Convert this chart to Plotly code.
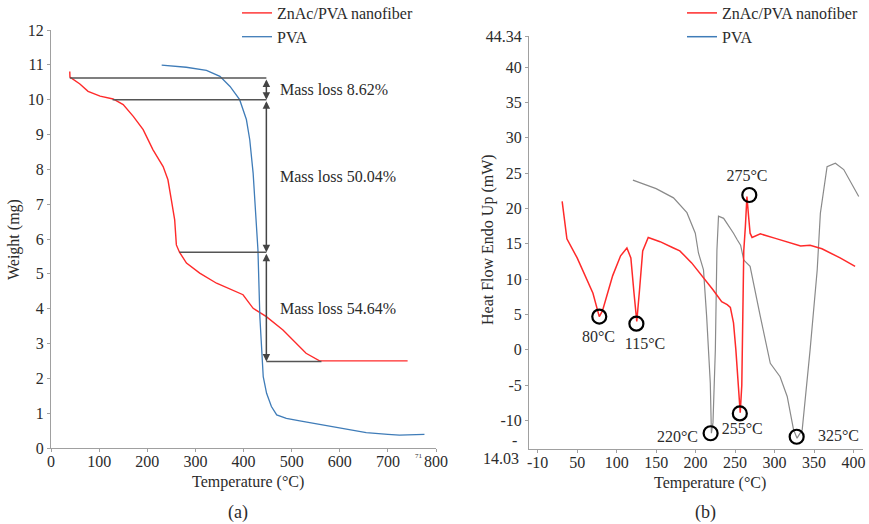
import plotly.graph_objects as go

# ---------------- (a) TGA data ----------------
tga_zn_T = [39, 39.4, 60, 77, 102, 129, 150, 171, 191.5, 212, 233, 243, 250, 257, 260.5, 267,
            281.5, 309, 344, 378, 399, 420, 447.5, 482, 503, 530, 558, 600, 650, 700, 741]
tga_zn_W = [10.81, 10.65, 10.45, 10.24, 10.10, 10.02, 9.86, 9.52, 9.14, 8.56, 8.08, 7.70, 7.13, 6.55, 5.83, 5.62,
            5.31, 5.02, 4.73, 4.54, 4.40, 4.01, 3.77, 3.39, 3.10, 2.72, 2.50, 2.50, 2.49, 2.50, 2.50]
tga_pva_T = [230, 281, 323, 351, 372, 392, 406, 413, 420, 425, 430, 434, 441, 448, 458, 469,
             489, 517, 586, 655, 700, 724, 776]
tga_pva_W = [10.99, 10.93, 10.84, 10.67, 10.38, 10.00, 9.43, 8.85, 7.89, 6.93, 5.69, 3.77, 2.05, 1.57, 1.19, 0.95,
             0.85, 0.78, 0.61, 0.44, 0.39, 0.37, 0.39]

level_y = [10.62, 10.00, 5.62, 2.48]
level_x0 = [39, 128, 267, 447.5]
level_x1 = [447.5, 447.5, 447.5, 562]
arrow_x = 447.5
loss_text = ["Mass loss 8.62%", "Mass loss 50.04%", "Mass loss 54.64%"]
loss_y = [10.3, 7.8, 4.0]
loss_x = 471

# ---------------- (b) DSC data ----------------
dsc_zn_T = [31, 37, 50, 62, 70, 78, 82, 95, 105, 113, 118, 122, 125.5, 129, 133, 140, 155, 172, 180,
            195, 210, 222, 233, 240, 244, 248, 251, 254, 256.5, 258.5, 261, 263, 265, 267, 269, 271.5,
            282, 300, 320, 333, 345, 360, 383, 402]
dsc_zn_H = [21.0, 15.7, 13.0, 10.0, 8.0, 4.7, 5.5, 10.5, 13.3, 14.4, 13.0, 8.0, 4.0, 8.5, 14.0, 15.9, 15.3, 14.4, 14.0,
            12.3, 10.2, 8.5, 6.8, 6.4, 6.0, 3.8, 0.0, -5.7, -8.9, -5.0, 14.0, 17.4, 21.7, 19.0, 16.5, 15.9,
            16.4, 15.8, 15.1, 14.7, 14.8, 14.3, 13.0, 11.8]
dsc_pva_T = [120.6, 150, 172, 189, 199.6, 203.6, 210, 214, 218.6, 220, 222, 225, 227, 229, 235.5, 242, 248,
             252.5, 257, 261, 269, 282, 294.6, 307, 316, 324, 328.5, 335, 345, 354, 358, 366.5, 377,
             387.6, 406.6]
dsc_pva_H = [24.0, 22.8, 21.5, 19.4, 16.5, 13.7, 11.3, 4.7, -4.7, -11.8, -10.3, 0.0, 14.1, 18.9, 18.6, 17.6, 16.5,
             15.6, 14.8, 12.7, 11.8, 4.7, -1.9, -3.8, -6.6, -11.3, -12.5, -11.3, 0.0, 11.3, 19.3, 25.9, 26.4,
             25.5, 21.7]
peak_T = [78, 125, 219, 256, 268, 328]
peak_H = [4.7, 3.7, -11.8, -9.0, 21.9, -12.3]
peak_lbl = ["80°C", "115°C", "220°C", "255°C", "275°C", "325°C"]
lbl_T = [77, 136, 177, 259, 265, 381]
lbl_H = [1.7, 0.7, -12.5, -11.3, 24.5, -12.3]

dsc_xticks = [0, 50, 100, 150, 200, 250, 300, 350, 400]
dsc_xtext = ["-10", "50", "100", "150", "200", "250", "300", "350", "400"]
dsc_yticks = [-10, -5, 0, 5, 10, 15, 20, 25, 30, 35, 40, 44.34]
dsc_ytext = ["-10", "-5", "0", "5", "10", "15", "20", "25", "30", "35", "40", "44.34"]

RED = "#ff2a2a"
BLUE = "#3f7cb8"
GRAY = "#8a8a8a"
FONT = "Liberation Serif, Times New Roman, Times, serif"
TXT = "#2b2b2b"
FS = 16

fig = go.Figure()

fig.add_trace(go.Scatter(x=tga_zn_T, y=tga_zn_W, mode="lines", line=dict(color=RED, width=1.4),
                         name="ZnAc/PVA nanofiber", xaxis="x", yaxis="y", legend="legend"))
fig.add_trace(go.Scatter(x=tga_pva_T, y=tga_pva_W, mode="lines", line=dict(color=BLUE, width=1.3),
                         name="PVA", xaxis="x", yaxis="y", legend="legend"))

fig.add_trace(go.Scatter(x=dsc_pva_T, y=dsc_pva_H, mode="lines", line=dict(color=GRAY, width=1.2),
                         showlegend=False, xaxis="x2", yaxis="y2"))
fig.add_trace(go.Scatter(x=dsc_zn_T, y=dsc_zn_H, mode="lines", line=dict(color=RED, width=1.5),
                         showlegend=False, xaxis="x2", yaxis="y2"))
fig.add_trace(go.Scatter(x=[None], y=[None], mode="lines", line=dict(color=RED, width=1.5),
                         name="ZnAc/PVA nanofiber", xaxis="x2", yaxis="y2", legend="legend2"))
fig.add_trace(go.Scatter(x=[None], y=[None], mode="lines", line=dict(color=BLUE, width=1.5),
                         name="PVA", xaxis="x2", yaxis="y2", legend="legend2"))
fig.add_trace(go.Scatter(x=peak_T, y=peak_H, mode="markers",
                         marker=dict(symbol="circle-open", size=14, color="black", line=dict(width=2.2)),
                         showlegend=False, xaxis="x2", yaxis="y2"))
fig.add_trace(go.Scatter(x=lbl_T, y=lbl_H, mode="text", text=peak_lbl,
                         textfont=dict(family=FONT, size=FS, color=TXT),
                         showlegend=False, xaxis="x2", yaxis="y2"))

# level lines
for yv, x0, x1 in zip(level_y, level_x0, level_x1):
    fig.add_shape(type="line", x0=x0, x1=x1, y0=yv, y1=yv, xref="x", yref="y",
                  line=dict(color="#555555", width=1.5))

annotations = []
for i in range(3):
    annotations.append(dict(x=arrow_x, y=level_y[i + 1], ax=arrow_x, ay=level_y[i], xref="x", yref="y",
                            axref="x", ayref="y", showarrow=True, arrowhead=2, arrowside="end+start",
                            arrowsize=1, arrowwidth=1.5, arrowcolor="#444444", text=""))
    annotations.append(dict(x=loss_x, y=loss_y[i], xref="x", yref="y", text=loss_text[i], showarrow=False,
                            xanchor="left", yanchor="middle", font=dict(family=FONT, size=FS, color=TXT)))

# axis titles & captions (pixel positions converted to paper coords)
W, H = 869, 524
def px(x):
    return x / W
def py(y):
    return 1 - y / H

def txt(x, y, s, size=FS, xa="center", angle=0):
    return dict(x=px(x), y=py(y), xref="paper", yref="paper", text=s, showarrow=False,
                xanchor=xa, yanchor="middle", textangle=angle,
                font=dict(family=FONT, size=size, color=TXT))

annotations += [
    txt(14, 240, "Weight (mg)", angle=-90),
    txt(488, 240, "Heat Flow Endo Up (mW)", angle=-90),
    txt(248, 482, "Temperature (°C)"),
    txt(710, 483, "Temperature (°C)"),
    txt(238, 512, "(a)", size=18),
    txt(705, 512, "(b)", size=18),
    txt(519, 440, "-", xa="right"),
    txt(521, 458, "14.03", xa="right"),
    txt(425, 456, "71", size=7, xa="right"),
]

axis_common = dict(showgrid=False, zeroline=False, showline=True, linecolor="#a0a0a0", linewidth=1,
                   ticks="outside", ticklen=3, tickcolor="#a0a0a0", automargin=False,
                   tickfont=dict(family=FONT, size=FS, color=TXT))

fig.update_layout(
    template="none",
    width=W, height=H,
    margin=dict(l=0, r=0, t=0, b=0, autoexpand=False),
    paper_bgcolor="white", plot_bgcolor="white",
    font=dict(family=FONT, size=FS, color=TXT),
    xaxis=dict(domain=[px(51), px(436)], range=[0, 800], tickvals=list(range(0, 801, 100)),
               anchor="y", ticklabelstandoff=-4, **axis_common),
    yaxis=dict(domain=[py(448), py(30)], range=[0, 12], tickvals=list(range(0, 13)), anchor="x",
               **axis_common),
    xaxis2=dict(domain=[px(529), px(863)], range=[-11, 412], tickvals=dsc_xticks, ticktext=dsc_xtext,
                anchor="y2", ticklabelstandoff=-4, **axis_common),
    yaxis2=dict(domain=[py(449), py(36.4)], range=[-14.03, 44.34], tickvals=dsc_yticks, ticktext=dsc_ytext,
                anchor="x2", **axis_common),
    legend=dict(x=px(237), y=py(-4), xanchor="left", yanchor="top", bgcolor="rgba(0,0,0,0)",
                font=dict(family=FONT, size=FS, color=TXT), tracegroupgap=0, itemwidth=30),
    legend2=dict(x=px(682), y=py(-4), xanchor="left", yanchor="top", bgcolor="rgba(0,0,0,0)",
                 font=dict(family=FONT, size=FS, color=TXT), tracegroupgap=0, itemwidth=30),
    annotations=annotations,
    showlegend=True,
)

fig.write_html("out.html")
